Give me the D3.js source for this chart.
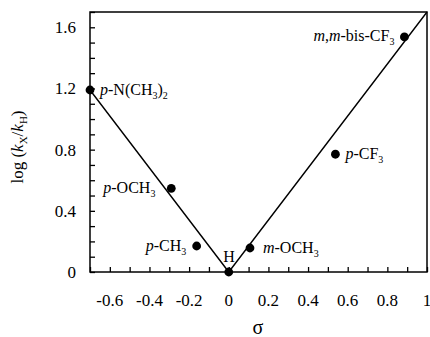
<!DOCTYPE html>
<html>
<head>
<meta charset="utf-8">
<script src="https://d3js.org/d3.v7.min.js"></script>
<style>
body { margin: 0; background: white; }
</style>
</head>
<body>
<script>
var width = 430, height = 337;
var margin = {left: 90, right: 3, top: 12, bottom: 65};
var FONT = "'Liberation Serif'";

// data
var subst = ["p-N(CH3)2", "p-OCH3", "p-CH3", "H", "m-OCH3", "p-CF3", "m,m-bis-CF3"];
var sigma = [-0.7, -0.29, -0.162, 0, 0.107, 0.538, 0.886];
var logk = [1.19, 0.547, 0.17, 0, 0.157, 0.77, 1.537];
// fitted lines (rho = -1.7 / +1.7)
var lineX = [-0.7, 0, 1.0];
var lineY = [1.19, 0, 1.7];
var xTickVals = [-0.6, -0.4, -0.2, 0, 0.2, 0.4, 0.6, 0.8, 1];
var yTickVals = [0, 0.4, 0.8, 1.2, 1.6];

// label parts
var labelSpec = [
  {pre: "p", body: "-N(CH", sub: "3", tail: ")", sub2: "2", dx: 10, dy: 5},
  {pre: "p", body: "-OCH", sub: "3", dx: -68, dy: 5},
  {pre: "p", body: "-CH", sub: "3", dx: -51, dy: 5},
  {pre: "", body: "H", sub: "", dx: -5.5, dy: -10.5},
  {pre: "m", body: "-OCH", sub: "3", dx: 13, dy: 5},
  {pre: "p", body: "-CF", sub: "3", dx: 10, dy: 5},
  {pre: "m", body: ",", pre2: "m", body2: "-bis-CF", sub: "3", dx: -91, dy: 4}
];

var svg = d3.select("body").append("svg")
  .attr("width", width).attr("height", height)
  .style("font-family", FONT);

var x = d3.scaleLinear().domain([-0.7, 1.0]).range([margin.left, width - margin.right]);
var y = d3.scaleLinear().domain([0, 1.7]).range([height - margin.bottom, margin.top]);

// frame
svg.append("rect")
  .attr("x", x(-0.7)).attr("y", y(1.7))
  .attr("width", x(1.0) - x(-0.7)).attr("height", y(0) - y(1.7))
  .attr("fill", "none").attr("stroke", "black").attr("stroke-width", 1.5);

// minor ticks inward
var xMinor = d3.range(-7, 11).map(function(d){ return d / 10; });
var yMinor = d3.range(0, 18).map(function(d){ return d / 10; });

var xAxis = d3.axisBottom(x).tickValues(xMinor).tickSize(-5).tickFormat("");
svg.append("g").attr("transform", "translate(0," + y(0) + ")").call(xAxis)
  .call(function(g){ g.select(".domain").remove(); })
  .selectAll("line").attr("stroke-width", 1.3);

var yAxis = d3.axisLeft(y).tickValues(yMinor).tickSize(-5).tickFormat("");
svg.append("g").attr("transform", "translate(" + x(-0.7) + ",0)").call(yAxis)
  .call(function(g){ g.select(".domain").remove(); })
  .selectAll("line").attr("stroke-width", 1.3);

// tick labels
svg.append("g").selectAll("text").data(xTickVals).enter().append("text")
  .attr("x", function(d){ return x(d); })
  .attr("y", y(0) + 34)
  .attr("text-anchor", "middle")
  .style("font-family", FONT)
  .style("font-size", "17px")
  .text(function(d){ return String(d); });

svg.append("g").selectAll("text").data(yTickVals).enter().append("text")
  .attr("x", 76)
  .attr("y", function(d){ return y(d) + 6; })
  .attr("text-anchor", "end")
  .style("font-family", FONT)
  .style("font-size", "17px")
  .text(function(d){ return d === 0 ? "0" : d.toFixed(1); });

// lines
var lineData = lineX.map(function(d, i){ return [d, lineY[i]]; });
svg.append("path")
  .datum(lineData)
  .attr("d", d3.line().x(function(d){ return x(d[0]); }).y(function(d){ return y(d[1]); }))
  .attr("fill", "none").attr("stroke", "black").attr("stroke-width", 1.4);

// points
svg.append("g").selectAll("circle").data(sigma).enter().append("circle")
  .attr("cx", function(d){ return x(d); })
  .attr("cy", function(d, i){ return y(logk[i]); })
  .attr("r", 4.4)
  .attr("fill", "black");

// labels
labelSpec.forEach(function(s, i){
  var t = svg.append("text")
    .attr("x", x(sigma[i]) + s.dx)
    .attr("y", y(logk[i]) + s.dy)
    .style("font-family", FONT)
    .style("font-size", "16px");
  if (s.pre) t.append("tspan").style("font-style", "italic").text(s.pre);
  t.append("tspan").text(s.body);
  if (s.pre2) t.append("tspan").style("font-style", "italic").text(s.pre2);
  if (s.body2) t.append("tspan").text(s.body2);
  if (s.sub) t.append("tspan").attr("dy", 4).style("font-size", "10px").text(s.sub);
  if (s.tail) t.append("tspan").attr("dy", -4).text(s.tail);
  if (s.sub2) t.append("tspan").attr("dy", 4).style("font-size", "10px").text(s.sub2);
});

// axis titles
var yt = svg.append("text")
  .attr("transform", "translate(23,147) rotate(-90)")
  .attr("text-anchor", "middle")
  .style("font-family", FONT)
  .style("font-size", "17px");
yt.append("tspan").text("log (");
yt.append("tspan").style("font-style", "italic").text("k");
yt.append("tspan").attr("dy", 4).style("font-size", "11px").text("X");
yt.append("tspan").attr("dy", -4).text("/");
yt.append("tspan").style("font-style", "italic").text("k");
yt.append("tspan").attr("dy", 4).style("font-size", "11px").text("H");
yt.append("tspan").attr("dy", -4).text(")");

svg.append("text")
  .attr("x", 258).attr("y", 334)
  .attr("text-anchor", "middle")
  .style("font-family", FONT)
  .style("font-size", "20px")
  .text("σ");
</script>
</body>
</html>
